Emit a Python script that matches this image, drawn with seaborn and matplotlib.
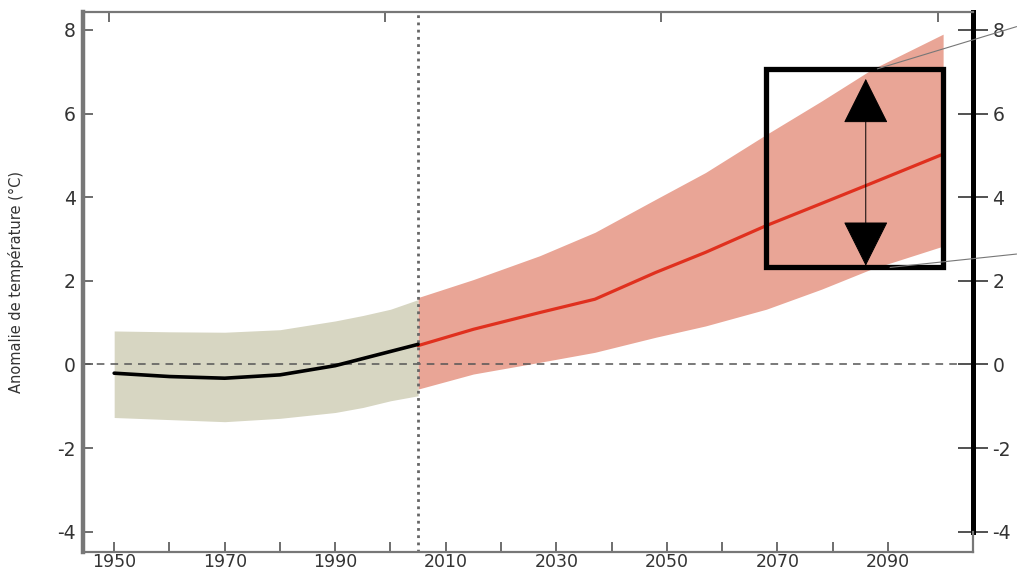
"""
Anomalie de température : historique (1950-2005) et projection (2005-2100)
avec enveloppes d'incertitude et zoom sur la fin du siècle.
"""

import matplotlib
matplotlib.use('Agg')
import matplotlib.pyplot as plt
import seaborn as sns
import pandas as pd

# Données
annees_hist = [1950, 1960, 1970, 1980, 1990, 1995, 2000, 2005]
moy_hist = [-0.21, -0.29, -0.33, -0.25, -0.03, 0.14, 0.31, 0.48]
haut_hist = [0.80, 0.78, 0.77, 0.83, 1.04, 1.17, 1.32, 1.55]
bas_hist = [-1.27, -1.32, -1.37, -1.29, -1.15, -1.03, -0.87, -0.75]

annees_proj = [2005, 2015, 2027, 2037, 2048, 2057, 2068, 2078, 2087, 2100]
moy_proj = [0.45, 0.84, 1.24, 1.56, 2.20, 2.68, 3.32, 3.85, 4.33, 5.03]
haut_proj = [1.60, 2.03, 2.60, 3.16, 3.95, 4.59, 5.50, 6.30, 7.05, 7.90]
bas_proj = [-0.59, -0.23, 0.05, 0.29, 0.65, 0.92, 1.32, 1.80, 2.28, 2.83]

ticks_x = [1950, 1970, 1990, 2010, 2030, 2050, 2070, 2090]
ticks_x_min = [1960, 1980, 2000, 2020, 2040, 2060, 2080]
ticks_y = [-4, -2, 0, 2, 4, 6, 8]
labels_y = ['-4', '-2', '0', '2', '4', '6', '8']

# Encadré de zoom (années, °C)
zoom_x = [2068, 2100]
zoom_y = [2.32, 7.07]
fleche_x = 2086
fleche_y = [2.36, 6.83]

df_hist = pd.DataFrame({'annee': annees_hist, 'anomalie': moy_hist})
df_proj = pd.DataFrame({'annee': annees_proj, 'anomalie': moy_proj})

sns.set_theme(style='white')
plt.rcParams['font.family'] = ['DejaVu Sans']
gris_texte = '#333333'

fig = plt.figure(figsize=(10.17, 5.71), dpi=100)
ax = fig.add_axes([0.0813, 0.0338, 0.8754, 0.9452])

ax.fill_between(annees_hist, bas_hist, haut_hist, color='#d7d6c2', lw=0, zorder=1)
ax.fill_between(annees_proj, bas_proj, haut_proj, color='#e9a596', lw=0, zorder=1)

ax.axhline(0, color='#555555', lw=1.1, ls=(0, (5, 4)), zorder=2)
ax.axvline(2005, color='#666666', lw=2, ls=(0, (1, 1.6)), zorder=2)

sns.lineplot(data=df_proj, x='annee', y='anomalie', ax=ax, color='#e0301e',
             lw=2.3, zorder=3)
sns.lineplot(data=df_hist, x='annee', y='anomalie', ax=ax, color='black',
             lw=2.6, zorder=4)

# Encadré + flèche
ax.add_patch(plt.Rectangle((zoom_x[0], zoom_y[0]), zoom_x[1] - zoom_x[0],
                           zoom_y[1] - zoom_y[0], fill=False, ec='black',
                           lw=3.8, zorder=5))
ax.annotate('', xy=(fleche_x, fleche_y[1]), xytext=(fleche_x, fleche_y[0]),
            arrowprops=dict(arrowstyle='<|-|>,head_length=30,head_width=15',
                            mutation_scale=1, color='black', lw=0.7,
                            shrinkA=0, shrinkB=0), zorder=6)
# Lignes de liaison vers l'extérieur
ax.plot([2088.1, 2113.3], [7.07, 8.08], color='#777777', lw=0.8,
        clip_on=False, zorder=6)
ax.plot([2090.4, 2113.3], [2.32, 2.64], color='#777777', lw=0.8,
        clip_on=False, zorder=6)

ax.set_xlim(1944.3, 2105.4)
ax.set_ylim(-4.48, 8.43)

ax.set_xticks(ticks_x)
ax.set_xticklabels([str(a) for a in ticks_x], fontsize=12.5, color=gris_texte)
ax.set_xticks(ticks_x_min, minor=True)
ax.set_yticks(ticks_y)
ax.set_yticklabels(labels_y, fontsize=13.5, color=gris_texte)
ax.tick_params(axis='x', which='both', direction='in', length=7, width=1.2,
               color='#555555', bottom=True, pad=1)
ax.tick_params(axis='y', direction='in', length=7, width=1.2,
               color='#555555', left=True, pad=5)

ax.set_xlabel('')
ax.set_ylabel('Anomalie de température (°C)', fontsize=10.5, color=gris_texte,
              labelpad=24)

for cote, lw in [('left', 3.2), ('bottom', 1.6), ('top', 1.6), ('right', 1.6)]:
    ax.spines[cote].set_visible(True)
    ax.spines[cote].set_linewidth(lw)
    ax.spines[cote].set_color('#777777')
ax.spines['right'].set_bounds(-4.48, -4)

# Axe de droite
sec = ax.secondary_yaxis('right')
sec.set_yticks(ticks_y)
sec.set_yticklabels(labels_y, fontsize=13.5, color=gris_texte)
sec.tick_params(direction='inout', length=22, width=1.2, color='#333333', pad=3)
sec.spines['right'].set_linewidth(3.6)
sec.spines['right'].set_color('black')
sec.spines['right'].set_bounds(-4, 8.43)

# Graduations du haut
top = ax.secondary_xaxis('top')
top.set_xticks([1949, 1999, 2049, 2099])
top.set_xticklabels([])
top.tick_params(direction='in', length=7, width=1.2, color='#555555')
top.spines['top'].set_visible(False)

fig.savefig('out.png', dpi=100)
